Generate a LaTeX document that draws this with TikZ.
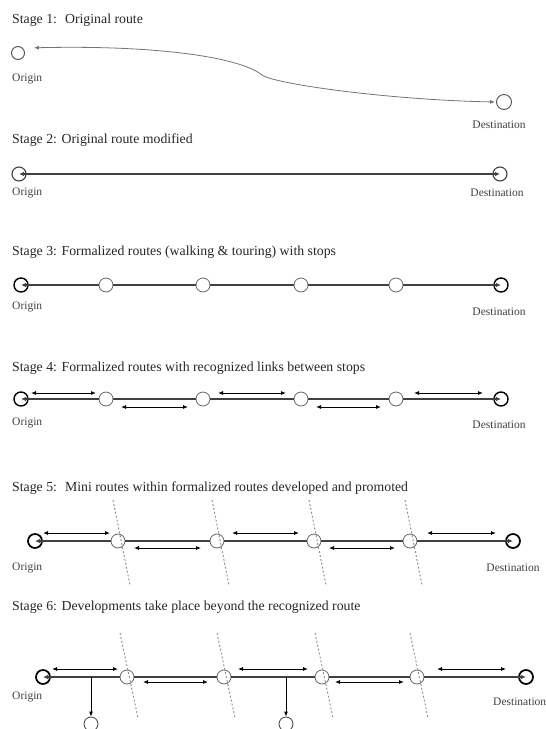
\documentclass[tikz,border=0pt]{standalone}
\usepackage{fontspec}
\setmainfont{Liberation Serif}
\usetikzlibrary{arrows.meta,calc}

\tikzset{
  stagetitle/.style={anchor=west, inner sep=0pt, text=black!85, font=\fontsize{13.8}{16}\selectfont},
  placelabel/.style={inner sep=0pt, text=black!75, font=\fontsize{11.5}{13}\selectfont},
  openend/.style={circle, draw=black!70, line width=0.9pt, inner sep=0pt, minimum size=13pt},
  endnode/.style={circle, draw=black, fill=white, line width=1.4pt, inner sep=0pt, minimum size=14pt},
  stopnode/.style={circle, draw=black!60, fill=white, line width=0.8pt, inner sep=0pt, minimum size=14pt},
  routeline/.style={draw=black!75, line width=1.3pt, >={Latex[length=5pt,width=4.5pt]}},
  linkarrow/.style={<->, line width=0.9pt, >={Latex[length=5pt,width=4pt]}},
  zoneline/.style={draw=black!45, line width=0.9pt, dash pattern=on 2pt off 2pt}
}

\begin{document}
\begin{tikzpicture}[x=1pt,y=-1pt]
	\useasboundingbox (0,0) rectangle (546,729);

	% Stage 1
	\node[stagetitle] (t1) at (12,20) {Stage 1:~ Original route};
	\node[openend] (o1) at (18,53) {};
	\node[openend, minimum size=15pt] (d1) at (504,102) {};
	\coordinate (k1) at (262,75);
	\draw[<->, draw=black!55, line width=0.8pt, >={Latex[length=5pt,width=4pt]}, shorten <=11pt, shorten >=1pt]
		(o1.north east) .. controls (150,45) and (238,56) .. (k1)
		.. controls (274,84) and (390,100) .. (d1.west);
	\node[placelabel, anchor=west] at (12,79) {Origin};
	\node[placelabel] at (499,125) {Destination};

	% Stage 2
	\node[stagetitle] (t2) at (12,140) {Stage 2: Original route modified};
	\node[endnode, draw=black!75, line width=1.1pt] (o2) at (19,174) {};
	\node[endnode, draw=black!75, line width=1.1pt] (d2) at (500,174) {};
	\draw[routeline, <->, line width=1.1pt] (o2.center) -- (d2.center);
	\node[placelabel, anchor=west] at (12,193) {Origin};
	\node[placelabel] at (497,193) {Destination};

	% Stage 3
	\node[stagetitle] (t3) at (12,252) {Stage 3: Formalized routes (walking \& touring) with stops};
	\node[endnode] (o3) at (21,285) {};
	\node[endnode] (d3) at (501,285) {};
	\foreach \x [count=\i] in {106,203,301,396}
		\node[stopnode] (s3\i) at (\x,285) {};
	\draw[routeline, <-] (o3.center) -- (s31);
	\foreach \a/\b in {s31/s32, s32/s33, s33/s34}
		\draw[routeline] (\a) -- (\b);
	\draw[routeline, ->] (s34) -- (d3.center);
	\node[placelabel, anchor=west] at (12,307) {Origin};
	\node[placelabel] at (499,312) {Destination};

	% Stage 4
	\node[stagetitle] (t4) at (12,368) {Stage 4: Formalized routes with recognized links between stops};
	\node[endnode] (o4) at (21,399) {};
	\node[endnode] (d4) at (501,399) {};
	\foreach \x [count=\i] in {106,203,301,396}
		\node[stopnode] (s4\i) at (\x,399) {};
	\draw[routeline, <-, line width=1.5pt] (o4.center) -- (s41);
	\foreach \a/\b in {s41/s42, s42/s43, s43/s44}
		\draw[routeline, line width=1.5pt] (\a) -- (\b);
	\draw[routeline, ->, line width=1.5pt] (s44) -- (d4.center);
	\foreach \a/\b/\s/\g in {o4/s41/6/10, s41/s42/-8/15, s42/s43/6/15, s43/s44/-8/15, s44/d4/6/18}
		\draw[linkarrow, shorten <=\g pt, shorten >=\g pt] ([yshift=\s pt]\a.center) -- ([yshift=\s pt]\b.center);
	\node[placelabel, anchor=west] at (12,423) {Origin};
	\node[placelabel] at (499,425) {Destination};

	% Stage 5
	\node[stagetitle] (t5) at (12,488) {Stage 5:~ Mini routes within formalized routes developed and promoted};
	\node[endnode, line width=1.7pt] (o5) at (35,541) {};
	\node[endnode, line width=1.7pt] (d5) at (513,541) {};
	\foreach \x [count=\i] in {118,217,314,410}
		\node[stopnode] (s5\i) at (\x,541) {};
	\draw[routeline, <-, line width=2pt] (o5.center) -- (s51);
	\foreach \a/\b in {s51/s52, s52/s53, s53/s54}
		\draw[routeline, line width=2pt] (\a) -- (\b);
	\draw[routeline, ->, line width=2pt] (s54) -- (d5.center);
	\foreach \a/\b/\s/\g in {o5/s51/8/8, s51/s52/-7/16, s52/s53/8/15, s53/s54/-7/15, s54/d5/8/17}
		\draw[linkarrow, shorten <=\g pt, shorten >=\g pt] ([yshift=\s pt]\a.center) -- ([yshift=\s pt]\b.center);
	\foreach \i in {1,...,4}
		\draw[zoneline] ($(s5\i)+(-5,-41)$) -- ($(s5\i)+(12,44)$);
	\node[placelabel, anchor=west] at (12,568) {Origin};
	\node[placelabel] at (513,568) {Destination};

	% Stage 6
	\node[stagetitle] (t6) at (12,607) {Stage 6: Developments take place beyond the recognized route};
	\node[endnode, line width=1.7pt] (o6) at (43,677) {};
	\node[endnode, line width=1.7pt] (d6) at (526,677) {};
	\foreach \x [count=\i] in {127,224,322,417}
		\node[stopnode] (s6\i) at (\x,677) {};
	\draw[routeline, <-, line width=2pt] (o6.center) -- (s61);
	\foreach \a/\b in {s61/s62, s62/s63, s63/s64}
		\draw[routeline, line width=2pt] (\a) -- (\b);
	\draw[routeline, ->, line width=2pt] (s64) -- (d6.center);
	\foreach \a/\b/\s/\g in {o6/s61/8/9, s61/s62/-5/16, s62/s63/8/14, s63/s64/-5/13, s64/d6/8/20}
		\draw[linkarrow, shorten <=\g pt, shorten >=\g pt] ([yshift=\s pt]\a.center) -- ([yshift=\s pt]\b.center);
	\foreach \i in {1,...,4}
		\draw[zoneline] ($(s6\i)+(-7,-44)$) -- ($(s6\i)+(11,41)$);
	% branches off the route
	\foreach \x [count=\i] in {91,286} {
		\coordinate (b6\i) at (\x,677);
		\node[stopnode, draw=black!75] (p6\i) at (\x,724) {};
		\draw[linkarrow, -{Latex[length=5pt,width=4pt]}] (b6\i) -- (p6\i);
	}
	\node[placelabel, anchor=west] at (12,697) {Origin};
	\node[placelabel, anchor=west] at (493,702) {Destination};
\end{tikzpicture}
\end{document}
